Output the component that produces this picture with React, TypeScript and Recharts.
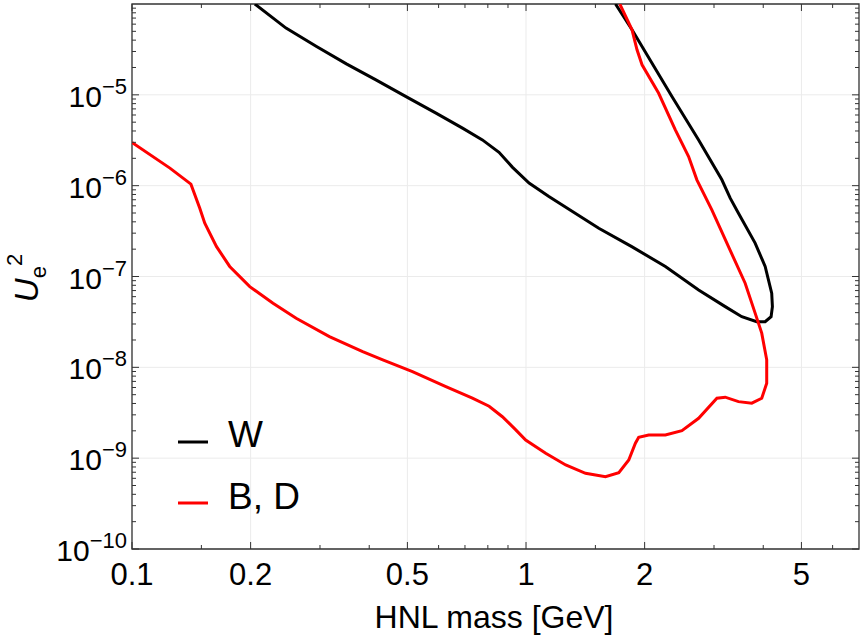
import React from 'react';
import { LineChart, Line, XAxis, YAxis, CartesianGrid, ReferenceArea, Legend } from 'recharts';

// W curve (closed contour, listed along the path)
const wMass = [0.205, 0.246, 0.294, 0.35, 0.416, 0.496, 0.591, 0.69, 0.775, 0.854, 0.923, 1.018, 1.143, 1.53, 1.855, 2.258, 2.742, 3.203, 3.529, 3.851, 4.045, 4.188, 4.22, 4.203, 4.045, 3.815, 3.461, 3.298, 3.141, 2.742, 2.346, 1.858, 1.687];
const wU2 = [1e-4, 5.43e-5, 3.4e-5, 2.19e-5, 1.46e-5, 9.57e-6, 6.28e-6, 4.3e-6, 3.19e-6, 2.33e-6, 1.6e-6, 1.07e-6, 7.59e-7, 3.4e-7, 2.13e-7, 1.29e-7, 7.11e-8, 4.66e-8, 3.61e-8, 3.18e-8, 3.18e-8, 3.61e-8, 4.66e-8, 6.55e-8, 1.29e-7, 2.33e-7, 4.98e-7, 7.28e-7, 1.16e-6, 3.19e-6, 9.57e-6, 5.2e-5, 1e-4];

// B, D curve
const bdMass = [0.1, 0.1248, 0.1411, 0.1486, 0.153, 0.1639, 0.177, 0.199, 0.228, 0.261, 0.317, 0.385, 0.433, 0.515, 0.626, 0.731, 0.806, 0.871, 0.942, 0.998, 1.122, 1.261, 1.416, 1.591, 1.72, 1.823, 1.895, 1.932, 2.048, 2.258, 2.487, 2.742, 3.051, 3.203, 3.461, 3.741, 3.965, 4.082, 4.082, 3.965, 3.815, 3.599, 3.265, 2.962, 2.714, 2.586, 2.393, 2.171, 1.97, 1.913, 1.858, 1.73];
const bdU2 = [2.99e-6, 1.56e-6, 1.04e-6, 5.65e-7, 3.86e-7, 2.13e-7, 1.29e-7, 7.74e-8, 5.08e-8, 3.47e-8, 2.18e-8, 1.49e-8, 1.21e-8, 8.97e-9, 6.12e-9, 4.57e-9, 3.73e-9, 2.86e-9, 2.05e-9, 1.58e-9, 1.13e-9, 8.41e-10, 6.82e-10, 6.25e-10, 6.92e-10, 9.55e-10, 1.46e-9, 1.7e-9, 1.8e-9, 1.8e-9, 2.01e-9, 2.75e-9, 4.57e-9, 4.69e-9, 4.19e-9, 4.03e-9, 4.57e-9, 6.68e-9, 1.21e-8, 2.38e-8, 3.95e-8, 8.43e-8, 2.13e-7, 5.41e-7, 1.16e-6, 2.09e-6, 4.12e-6, 1.04e-5, 2.14e-5, 3.13e-5, 5.2e-5, 1e-4];

const seriesNames = ['W', 'B, D'];
const xMajor = [0.1, 0.2, 0.5, 1, 2, 5];
const xMinor = [0.15, 0.3, 0.4, 0.6, 0.7, 0.8, 0.9, 1.5, 3, 4, 6];
const yMajor = [1e-10, 1e-9, 1e-8, 1e-7, 1e-6, 1e-5];
const yMinor = [-10, -9, -8, -7, -6, -5].flatMap((e) => [2, 3, 4, 5, 6, 7, 8, 9].map((k) => k * Math.pow(10, e)));

const wData = wMass.map((m, i) => ({ m, u: wU2[i] }));
const bdData = bdMass.map((m, i) => ({ m, u: bdU2[i] }));

const W = 865;
const H = 642;
const M = { top: 4, right: 6, bottom: 92, left: 131 };
const PLOT_TOP = M.top;
const PLOT_RIGHT = W - M.right;
const FONT = '"Liberation Sans", Arial, sans-serif';
const AXIS = '#333';

const XTick = (props: any) => {
  const { x, y, payload } = props;
  const major = xMajor.includes(payload.value);
  const len = major ? 7 : 4;
  return (
    <g>
      <line x1={x} x2={x} y1={y} y2={y - len} stroke={AXIS} />
      <line x1={x} x2={x} y1={PLOT_TOP} y2={PLOT_TOP + len} stroke={AXIS} />
      {major && (
        <text x={x} y={y + 36} textAnchor="middle" fontSize={31} fontFamily={FONT} fill="#000">
          {String(payload.value)}
        </text>
      )}
    </g>
  );
};

const YTick = (props: any) => {
  const { x, y, payload } = props;
  const major = yMajor.some((v) => Math.abs(v - payload.value) < v * 1e-6);
  const len = major ? 7 : 4;
  const exp = Math.round(Math.log10(payload.value));
  return (
    <g>
      <line x1={x} x2={x + len} y1={y} y2={y} stroke={AXIS} />
      <line x1={PLOT_RIGHT} x2={PLOT_RIGHT - len} y1={y} y2={y} stroke={AXIS} />
      {major && (
        <text x={x - 5} y={y + 12} textAnchor="end" fontFamily={FONT} fill="#000">
          <tspan fontSize={30}>10</tspan>
          <tspan fontSize={22} dy={-13}>{'\u2212' + Math.abs(exp)}</tspan>
        </text>
      )}
    </g>
  );
};

const LegendBox = (props: any) => {
  const items = [...(props.payload || [])].sort(
    (a: any, b: any) => seriesNames.indexOf(a.value) - seriesNames.indexOf(b.value)
  );
  return (
    <svg width={170} height={130} style={{ overflow: 'visible' }}>
      {items.map((it: any, i: number) => (
        <g key={i}>
          <line x1={8} x2={38} y1={42 + i * 61} y2={42 + i * 61} stroke={it.color} strokeWidth={3} />
          <text x={58} y={47 + i * 62} fontSize={37} fontFamily={FONT} fill="#000">
            {it.value}
          </text>
        </g>
      ))}
    </svg>
  );
};

export default function App() {
  return (
    <div style={{ position: 'absolute', left: 0, top: 0, background: '#fff' }}>
      <LineChart width={W} height={H} margin={M}>
        <CartesianGrid stroke="#ebebeb" verticalValues={xMajor} horizontalValues={yMajor} />
        <XAxis
          dataKey="m"
          type="number"
          scale="log"
          domain={[0.1, 7]}
          allowDataOverflow
          ticks={[...xMajor, ...xMinor]}
          interval={0}
          tick={<XTick />}
          tickLine={false}
          axisLine={false}
          tickSize={0}
          tickMargin={0}
          height={1}
          label={{
            content: () => (
              <text x={494} y={628} textAnchor="middle" fontSize={32} fontFamily={FONT} fill="#000">
                HNL mass [GeV]
              </text>
            ),
          }}
        />
        <YAxis
          type="number"
          scale="log"
          domain={[1e-10, 1e-4]}
          allowDataOverflow
          ticks={[...yMajor, ...yMinor]}
          interval={0}
          tick={<YTick />}
          tickLine={false}
          axisLine={false}
          tickSize={0}
          tickMargin={0}
          width={1}
          label={{
            content: () => (
              <text transform="translate(38,278) rotate(-90)" textAnchor="middle" fontFamily={FONT} fill="#000">
                <tspan fontSize={33} fontStyle="italic">U</tspan>
                <tspan fontSize={22} dy={8}>e</tspan>
                <tspan fontSize={22} dy={-24}>2</tspan>
              </text>
            ),
          }}
        />
        <Line data={wData} dataKey="u" name="W" type="linear" stroke="#000" strokeWidth={3} dot={false} isAnimationActive={false} />
        <Line data={bdData} dataKey="u" name="B, D" type="linear" stroke="#ff0000" strokeWidth={3} dot={false} isAnimationActive={false} />
        <ReferenceArea x1={0.1} x2={7} y1={1e-10} y2={1e-4} fill="none" stroke={AXIS} strokeWidth={1.3} ifOverflow="visible" />
        <Legend
          content={<LegendBox />}
          wrapperStyle={{ left: 170, top: 400, width: 170, height: 0, overflow: 'visible' }}
        />
      </LineChart>
    </div>
  );
}
